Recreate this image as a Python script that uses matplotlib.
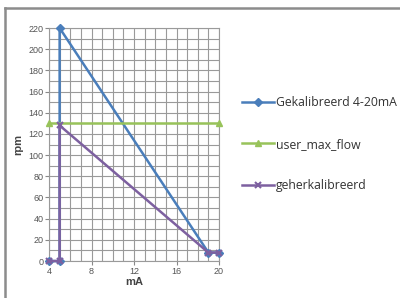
import matplotlib
matplotlib.use("Agg")
import matplotlib.pyplot as plt
from matplotlib.lines import Line2D
from matplotlib.ticker import MultipleLocator

# data
ma_kal = [4, 5, 5, 19, 20]
rpm_kal = [0, 0, 220, 8, 8]
ma_max = [4, 20]
rpm_max = [130, 130]
ma_herkal = [4, 5, 5, 19, 20]
rpm_herkal = [0, 0, 128, 8, 8]

labels = ["Gekalibreerd 4-20mA", "user_max_flow", "geherkalibreerd"]
xticks = [4, 8, 12, 16, 20]
yticks = list(range(0, 221, 20))

fig = plt.figure(figsize=(4.0, 2.98), dpi=100)
ax = fig.add_axes([0.1225, 0.124, 0.425, 0.782])

ax.plot(ma_kal, rpm_kal, color="#4a7ebb", lw=1.8, marker="D", ms=4,
        label=labels[0], clip_on=False, zorder=3)
ax.plot(ma_max, rpm_max, color="#98c35a", lw=1.8, marker="^", ms=5,
        label=labels[1], clip_on=False, zorder=3)
ax.plot(ma_herkal, rpm_herkal, color="#7d60a0", lw=1.8, marker="x", ms=5,
        mew=1.5, label=labels[2], clip_on=False, zorder=4)

ax.set_xlim(4, 20)
ax.set_ylim(0, 220)
ax.set_xticks(xticks)
ax.set_yticks(yticks)
ax.xaxis.set_minor_locator(MultipleLocator(1))
ax.yaxis.set_minor_locator(MultipleLocator(10))
ax.grid(which="both", color="#9a9a9a", lw=0.8)
ax.set_axisbelow(True)
ax.tick_params(which="major", length=3, color="#888888", labelsize=6.5,
               labelcolor="#555555", pad=1)
ax.tick_params(which="minor", length=0)
for t in ax.get_xticklabels() + ax.get_yticklabels():
    t.set_family("Liberation Sans")
for s in ax.spines.values():
    s.set_color("#9a9a9a")
    s.set_linewidth(0.8)

ax.set_xlabel("mA", fontsize=8, fontweight="bold", color="#444444",
              labelpad=1, family="Liberation Sans")
ax.set_ylabel("rpm", fontsize=8, fontweight="bold", color="#444444",
              labelpad=4, family="Liberation Sans")

leg = fig.legend(loc="upper left", bbox_to_anchor=(0.578, 0.715),
                 frameon=False, labelspacing=2.35,
                 handlelength=2.6, handletextpad=0.15,
                 prop={"family": "Open Sans", "size": 8.8})
for t in leg.get_texts():
    t.set_color("#333333")

# outer chart frame (partly cut off on right and bottom)
fig.add_artist(Line2D([0.0125, 1.0], [0.973, 0.973], color="#8c8c8c", lw=1.8,
                      transform=fig.transFigure))
fig.add_artist(Line2D([0.0125, 0.0125], [0.0, 0.973], color="#8c8c8c", lw=1.8,
                      transform=fig.transFigure))

fig.savefig("out.png", dpi=100)
